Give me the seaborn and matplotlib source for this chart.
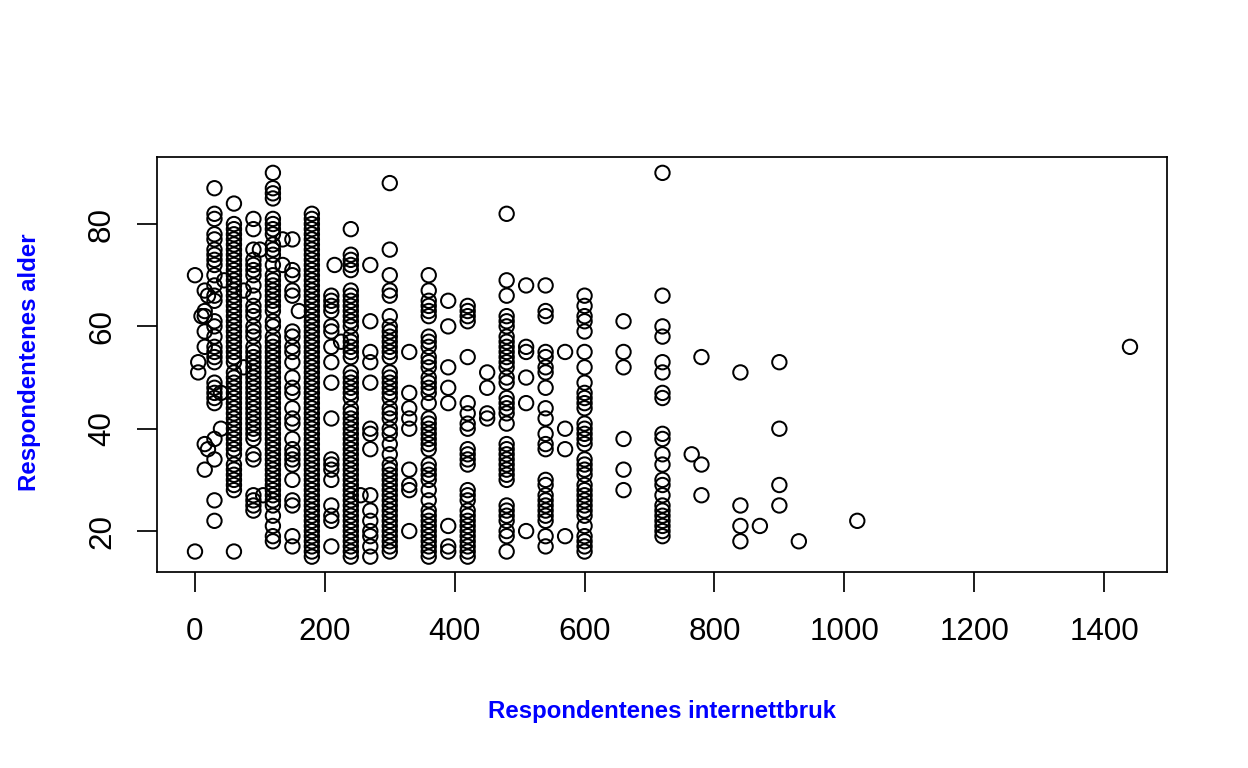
import pandas as pd
import seaborn as sns
import matplotlib.pyplot as plt

# Values: internet use (minutes) and the ages seen at that value
use_single = [0, 0, 5, 5, 10, 20, 20, 40, 40, 45, 75, 75, 100, 105, 135, 135, 160, 215, 225, 255,
              450, 450, 450, 450, 765, 870, 930, 1020, 1440]
age_single = [70, 16, 53, 51, 62, 66, 36, 47, 40, 69, 67, 52, 75, 27, 77, 72, 63, 72, 57, 27,
              51, 48, 43, 42, 35, 21, 18, 22, 56]

age_15 = [67, 63, 62, 59, 56, 37, 32]
age_30 = [87, 82, 81, 78, 77, 75, 74, 73, 72, 70, 68, 66, 65, 61, 60, 58, 56, 55, 54, 53, 49, 48,
          47, 46, 45, 38, 34, 26, 22]
age_60 = [84, 80, 79, 78, 77, 76, 75, 74, 73, 72, 71, 70, 69, 68, 67, 66, 65, 64, 63, 62, 61, 60,
          59, 58, 57, 56, 55, 54, 53, 51, 50, 49, 48, 47, 46, 45, 44, 43, 42, 41, 40, 39, 38, 37,
          36, 35, 33, 32, 31, 30, 29, 28, 16]
age_90 = [81, 79, 75, 73, 72, 71, 70, 68, 66, 64, 63, 62, 60, 59, 58, 56, 55, 54, 53, 52, 51, 50,
          49, 48, 47, 46, 45, 44, 43, 42, 41, 40, 39, 38, 35, 34, 27, 26, 25, 24]
age_120 = [90, 87, 86, 85, 81, 80, 79, 78, 76, 75, 74, 72, 70, 69, 68, 67, 66, 65, 64, 63, 61, 60,
           58, 57, 56, 55, 54, 53, 52, 51, 50, 49, 48, 47, 46, 45, 44, 43, 42, 41, 40, 39, 38, 37,
           36, 35, 34, 33, 32, 31, 30, 29, 28, 27, 26, 25, 23, 21, 19, 18]
age_150 = [77, 71, 70, 67, 66, 59, 58, 56, 55, 53, 50, 48, 47, 44, 42, 41, 38, 36, 35, 34, 33, 30,
           26, 25, 19, 17]
age_180 = [82, 81, 80, 79, 78, 77, 76, 75, 74, 73, 72, 71, 70, 69, 68, 67, 66, 65, 64, 63, 62, 61,
           60, 59, 58, 57, 56, 55, 54, 53, 52, 51, 50, 49, 48, 47, 46, 45, 44, 43, 42, 41, 40, 39,
           38, 37, 36, 35, 34, 33, 32, 31, 30, 29, 28, 27, 26, 25, 24, 23, 22, 21, 20, 19, 18, 17,
           16, 15]
age_210 = [66, 65, 64, 63, 60, 59, 56, 53, 49, 42, 34, 33, 32, 30, 25, 23, 22, 17]
age_240 = [79, 74, 73, 72, 71, 67, 66, 65, 64, 63, 62, 61, 60, 58, 57, 56, 55, 54, 51, 50, 49, 48,
           47, 46, 44, 43, 42, 41, 40, 39, 38, 37, 36, 35, 34, 33, 32, 31, 30, 29, 28, 27, 26, 25,
           24, 23, 22, 21, 20, 19, 18, 17, 16, 15]
age_270 = [72, 61, 55, 53, 49, 40, 39, 36, 27, 24, 22, 20, 19, 17, 15]
age_300 = [88, 75, 70, 67, 66, 62, 60, 59, 58, 57, 56, 55, 54, 51, 50, 49, 48, 47, 46, 44, 43, 42,
           40, 39, 37, 35, 33, 32, 31, 30, 29, 28, 27, 26, 25, 24, 23, 22, 21, 20, 19, 18, 17, 16]
age_330 = [55, 47, 44, 42, 40, 32, 29, 28, 20]
age_360 = [70, 67, 65, 64, 63, 62, 58, 57, 56, 54, 53, 52, 50, 49, 48, 47, 45, 42, 41, 40, 39, 38,
           37, 36, 33, 32, 31, 30, 28, 26, 24, 23, 22, 21, 20, 19, 18, 17, 16, 15]
age_390 = [65, 60, 52, 48, 45, 21, 17, 16]
age_420 = [64, 63, 62, 61, 54, 45, 43, 41, 40, 36, 35, 34, 33, 28, 27, 26, 24, 23, 22, 21, 20, 19,
           18, 17, 16, 15]
age_480 = [82, 69, 66, 62, 61, 60, 58, 57, 56, 55, 54, 53, 52, 50, 49, 46, 45, 44, 43, 41, 37, 36,
           35, 34, 33, 32, 31, 30, 25, 24, 23, 22, 20, 19, 16]
age_510 = [68, 56, 55, 50, 45, 20]
age_540 = [68, 63, 62, 55, 54, 52, 51, 48, 44, 42, 39, 37, 36, 30, 29, 27, 26, 25, 24, 23, 22, 19, 17]
age_570 = [55, 40, 36, 19]
age_600 = [66, 64, 62, 61, 59, 55, 52, 49, 47, 46, 45, 44, 41, 40, 39, 38, 37, 34, 33, 32, 31, 29,
           28, 27, 26, 25, 24, 23, 21, 19, 18, 17, 16]
age_660 = [61, 55, 52, 38, 32, 28]
age_720 = [90, 66, 60, 58, 53, 51, 47, 46, 39, 38, 35, 33, 30, 29, 27, 25, 24, 23, 22, 21, 20, 19]
age_780 = [54, 33, 27]
age_840 = [51, 25, 21, 18]
age_900 = [53, 40, 29, 25]

columns = {15: age_15, 30: age_30, 60: age_60, 90: age_90, 120: age_120, 150: age_150,
           180: age_180, 210: age_210, 240: age_240, 270: age_270, 300: age_300, 330: age_330,
           360: age_360, 390: age_390, 420: age_420, 480: age_480, 510: age_510, 540: age_540,
           570: age_570, 600: age_600, 660: age_660, 720: age_720, 780: age_780, 840: age_840,
           900: age_900}

x_ticks = [0, 200, 400, 600, 800, 1000, 1200, 1400]
y_ticks = [20, 40, 60, 80]

use = list(use_single)
age = list(age_single)
for minutes, ages in columns.items():
    use += [minutes] * len(ages)
    age += ages
df = pd.DataFrame({'bruk': use, 'alder': age})

sns.set_style('ticks')
plt.rcParams['font.family'] = ['Liberation Sans', 'DejaVu Sans']

fig = plt.figure(figsize=(13, 8), dpi=96)
ax = fig.add_axes([157 / 1248, 1 - 572 / 768, 1010 / 1248, 415 / 768])

sns.scatterplot(x='bruk', y='alder', data=df, ax=ax, s=116, facecolor='none',
                edgecolor='black', linewidth=1.5, clip_on=False)

ax.set_xlim(-58.5, 1497)
ax.set_ylim(12, 93.1)
ax.set_xticks(x_ticks)
ax.set_yticks(y_ticks)
ax.tick_params(axis='both', length=15, width=1.3, color='black', labelsize=23.5, labelcolor='black')
ax.tick_params(axis='x', pad=19)
ax.tick_params(axis='y', pad=15)
plt.setp(ax.get_yticklabels(), rotation=90, va='center')
for side in ax.spines.values():
    side.set_visible(True)
    side.set_linewidth(1.3)
    side.set_color('black')

ax.set_xlabel('Respondentenes internettbruk', color='blue', fontweight='bold', fontsize=18, va='center')
ax.set_ylabel('Respondentenes alder', color='blue', fontweight='bold', fontsize=18, va='center')
ax.xaxis.set_label_coords(0.5, -0.335)
ax.yaxis.set_label_coords(-0.1267, 0.505)

fig.savefig('out.png', dpi=96)
